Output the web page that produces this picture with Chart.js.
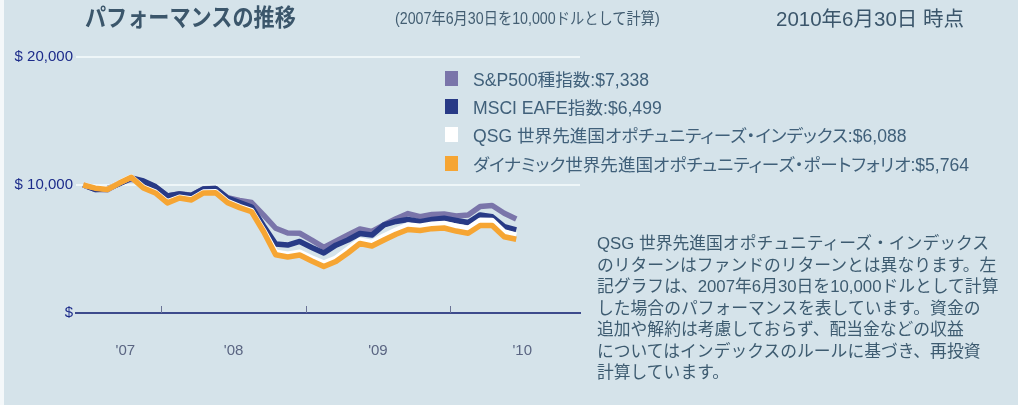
<!DOCTYPE html>
<html lang="ja">
<head>
<meta charset="utf-8">
<script src="https://cdn.jsdelivr.net/npm/chart.js@4.4.1/dist/chart.umd.min.js"></script>
<style>
    body { margin: 0; background: #ffffff; }
    #wrap { position: relative; width: 1018px; height: 405px; background: #d5e3ea; overflow: hidden;
            font-family: "Liberation Sans", "Noto Sans CJK JP", sans-serif; color: #3d5b70; }
    #edge { position: absolute; left: 0; top: 0; width: 4px; height: 405px; background: #f4f8fa; }
    #chart { position: absolute; left: 0; top: 0; }
    .head { position: absolute; white-space: nowrap; line-height: 1; transform-origin: left top; }
    #title { left: 85px; top: 6px; font-size: 24px; font-weight: bold; color: #3b566b; transform: scaleX(0.88); }
    #sub { left: 395px; top: 11px; font-size: 16px; color: #435e72; transform: scaleX(0.89); }
    #asof { left: 776px; top: 9px; font-size: 20.5px; color: #3b566b; }
    #legend { position: absolute; left: 445px; top: 64px; }
    .row { height: 28.3px; display: flex; align-items: center; white-space: nowrap; font-size: 17.6px;
           font-feature-settings: "palt"; color: #40607a; }
    .sw { width: 13px; height: 15px; margin-right: 15px; }
    #note { position: absolute; left: 597px; top: 233px; font-size: 16.8px; line-height: 21.5px; color: #3d5b70; white-space: nowrap; }
</style>
</head>
<body>
<div id="wrap">
    <canvas id="chart" width="1018" height="405"></canvas>
    <div id="edge"></div>
    <div class="head" id="title">パフォーマンスの推移</div>
    <div class="head" id="sub">(2007年6月30日を10,000ドルとして計算)</div>
    <div class="head" id="asof">2010年6月30日 時点</div>
    <div id="legend"></div>
    <div id="note">QSG 世界先進国オポチュニティーズ・インデックス<br>のリターンはファンドのリターンとは異なります。左<br>記グラフは、2007年6月30日を10,000ドルとして計算<br>した場合のパフォーマンスを表しています。資金の<br>追加や解約は考慮しておらず、配当金などの収益<br>についてはインデックスのルールに基づき、再投資<br>計算しています。</div>
</div>
<script>
// month-end values, June 2007 .. June 2010
const months = [
    '2007-06', '2007-07', '2007-08', '2007-09', '2007-10', '2007-11', '2007-12',
    '2008-01', '2008-02', '2008-03', '2008-04', '2008-05', '2008-06', '2008-07', '2008-08', '2008-09', '2008-10', '2008-11', '2008-12',
    '2009-01', '2009-02', '2009-03', '2009-04', '2009-05', '2009-06', '2009-07', '2009-08', '2009-09', '2009-10', '2009-11', '2009-12',
    '2010-01', '2010-02', '2010-03', '2010-04', '2010-05', '2010-06'
];

const sp500 = [10000, 9650, 9620, 10150, 10450, 10250, 9850, 9150, 9320, 9200, 9700, 9720, 9000,
    8800, 8630, 7650, 6620, 6250, 6230, 5700, 5120, 5610, 6090, 6560, 6370,
    6890, 7360, 7770, 7520, 7700, 7730, 7580, 7660, 8320, 8400, 7790, 7338];

const msciEafe = [10000, 9650, 9700, 10100, 10550, 10310, 9880, 9140, 9300, 9180, 9690, 9730, 8980,
    8630, 8280, 6800, 5390, 5310, 5590, 5120, 4690, 5300, 5700, 6210, 6090,
    6880, 7150, 7300, 7130, 7300, 7400, 7230, 7070, 7660, 7520, 6740, 6499];

const qsgIndex = [10000, 9790, 9680, 10170, 10620, 9830, 9450, 8680, 9040, 8900, 9450, 9480, 8700,
    8310, 7990, 6450, 4750, 4600, 4750, 4300, 3900, 4280, 4980, 5680, 5520,
    6020, 6470, 6870, 6780, 6930, 7000, 6780, 6600, 7250, 7230, 6330, 6088];

const dynamicFund = [10000, 9750, 9650, 10150, 10600, 9770, 9380, 8600, 8980, 8830, 9380, 9400, 8620,
    8230, 7910, 6350, 4550, 4380, 4530, 4060, 3630, 4020, 4690, 5430, 5230,
    5700, 6150, 6520, 6450, 6590, 6640, 6400, 6230, 6840, 6840, 5960, 5764];

const seriesNames = [
    'S&P500種指数',
    'MSCI EAFE指数',
    'QSG 世界先進国オポチュニティーズ・インデックス',
    'ダイナミック世界先進国オポチュニティーズ・ポートフォリオ'
];
const seriesColors = ['#7a75aa', '#283a86', '#ffffff', '#f6a533'];

const yTicks = [0, 10000, 20000];
const yearLabels = ["'07", "'08", "'09", "'10"];
const yearLabelAt = [3.5, 12.5, 24.5, 36.5];   // month index under each label
const yearBreaks = [6.5, 18.5, 30.5];          // tick marks on the axis

function toPoints(values) {
    return values.map((v, i) => ({ x: i, y: v }));
}

// small up-pointing tick marks on the bottom axis
const yearTicks = {
    id: 'yearTicks',
    afterDraw(chart) {
        const ctx = chart.ctx;
        const xs = chart.scales.x;
        const bottom = chart.chartArea.bottom;
        ctx.save();
        ctx.strokeStyle = '#6b7396';
        ctx.lineWidth = 1;
        yearBreaks.forEach(v => {
            const px = Math.round(xs.getPixelForValue(v)) + 0.5;
            ctx.beginPath();
            ctx.moveTo(px, bottom);
            ctx.lineTo(px, bottom - 7);
            ctx.stroke();
        });
        ctx.restore();
    }
};

const allSeries = [sp500, msciEafe, qsgIndex, dynamicFund];
const drawOrder = [3, 2, 1, 0];

const chart = new Chart(document.getElementById('chart'), {
    type: 'line',
    data: {
        labels: months,
        datasets: allSeries.map((values, k) => ({
            label: seriesNames[k],
            data: toPoints(values),
            borderColor: seriesColors[k],
            backgroundColor: seriesColors[k],
            borderWidth: 5.5,
            borderJoinStyle: 'round',
            pointRadius: 0,
            tension: 0,
            order: drawOrder[k]
        }))
    },
    options: {
        responsive: false,
        devicePixelRatio: 1,
        animation: false,
        layout: { padding: { left: 0, top: 57, right: 438, bottom: 0 } },
        plugins: {
            legend: { display: false },
            tooltip: { enabled: false }
        },
        scales: {
            x: {
                type: 'linear',
                min: -0.6,
                max: 41.3,
                afterFit(scale) { scale.height = 92; },
                afterBuildTicks(scale) { scale.ticks = yearLabelAt.map(v => ({ value: v })); },
                ticks: {
                    autoSkip: false,
                    maxRotation: 0,
                    padding: 29,
                    color: '#5a6582',
                    font: { family: 'Liberation Sans', size: 15 },
                    callback: (value) => yearLabels[yearLabelAt.indexOf(value)] || ''
                },
                grid: { display: false, drawTicks: false },
                border: { display: true, color: '#3d4b8c', width: 2 }
            },
            y: {
                min: 0,
                max: 20000,
                afterFit(scale) { scale.width = 76; },
                afterBuildTicks(scale) { scale.ticks = yTicks.map(v => ({ value: v })); },
                ticks: {
                    padding: 3,
                    color: '#1c2b8a',
                    font: { family: 'Liberation Sans', size: 15 },
                    callback: (value) => value === 0 ? '$' : '$ ' + value.toLocaleString('en-US')
                },
                grid: {
                    drawTicks: false,
                    lineWidth: 2,
                    color: (c) => c.tick && c.tick.value === 0 ? 'rgba(0,0,0,0)' : '#eef6f8'
                },
                border: { display: false }
            }
        }
    },
    plugins: [yearTicks]
});

// legend built from the datasets, with each series' last value
const legendEl = document.getElementById('legend');
chart.data.datasets.forEach((ds, k) => {
    const last = allSeries[k][allSeries[k].length - 1];
    const row = document.createElement('div');
    row.className = 'row';
    row.innerHTML = `<span class="sw" style="background:${ds.borderColor}"></span>` +
        `<span>${ds.label}:$${last.toLocaleString('en-US')}</span>`;
    legendEl.appendChild(row);
});
</script>
</body>
</html>
